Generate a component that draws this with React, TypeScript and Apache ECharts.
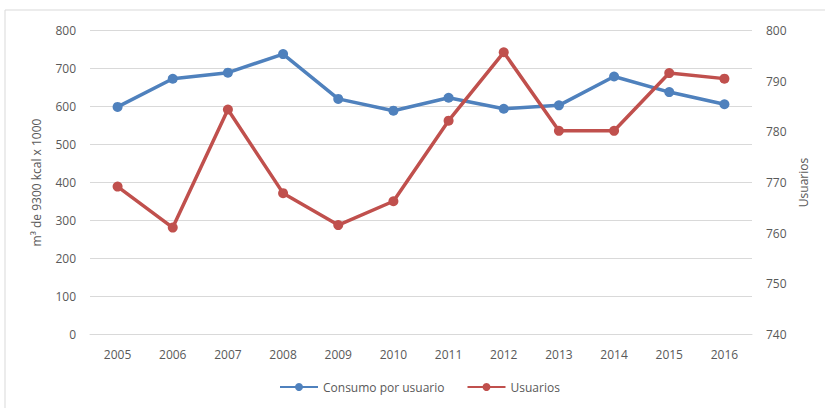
import React, { useEffect, useRef } from "react";
import * as echarts from "echarts";

const years = ["2005", "2006", "2007", "2008", "2009", "2010", "2011", "2012", "2013", "2014", "2015", "2016"];
const consumoPorUsuario = [599, 673, 689, 738, 620, 589, 623, 594, 603, 679, 638, 606];
const usuarios = [769.2, 761.1, 784.4, 767.9, 761.6, 766.3, 782.2, 795.7, 780.2, 780.2, 791.6, 790.5];

const FONT = "Open Sans";
const TEXT = "#595959";

export default function App() {
  const ref = useRef<HTMLDivElement>(null);
  useEffect(() => {
    document.body.style.margin = "0";
    const chart = echarts.init(ref.current!, null, { renderer: "svg" });
    chart.setOption({
      animation: false,
      textStyle: { fontFamily: FONT },
      color: ["#4F81BD", "#C0504D"],
      graphic: [
        {
          type: "rect",
          shape: { x: 5, y: 10, width: 830, height: 420 },
          style: { fill: "none", stroke: "#d9d9d9", lineWidth: 1 },
          silent: true,
        },
      ],
      grid: { left: 90, right: 73, top: 30.5, bottom: 73.5, containLabel: false },
      legend: {
        left: 279,
        top: 381,
        padding: 0,
        itemWidth: 38,
        itemHeight: 10,
        itemGap: 22,
        textStyle: { color: TEXT, fontSize: 12, fontFamily: FONT },
        data: ["Consumo por usuario", "Usuarios"],
      },
      xAxis: {
        type: "category",
        data: years,
        boundaryGap: true,
        axisLine: { lineStyle: { color: "#d9d9d9" } },
        axisTick: { show: false },
        axisLabel: { color: TEXT, fontSize: 12, margin: 14, fontFamily: FONT },
      },
      yAxis: [
        {
          type: "value",
          min: 0,
          max: 800,
          interval: 100,
          name: "m³ de 9300 kcal x 1000",
          nameLocation: "middle",
          nameGap: 48,
          nameTextStyle: { color: TEXT, fontSize: 12, fontFamily: FONT },
          axisLine: { show: false },
          axisTick: { show: false },
          axisLabel: { color: TEXT, fontSize: 12, margin: 14, fontFamily: FONT },
          splitLine: { lineStyle: { color: "#d9d9d9", width: 1 } },
        },
        {
          type: "value",
          min: 740,
          max: 800,
          interval: 10,
          name: "Usuarios",
          nameLocation: "middle",
          nameGap: 45,
          nameTextStyle: { color: TEXT, fontSize: 12, fontFamily: FONT },
          axisLine: { show: false },
          axisTick: { show: false },
          axisLabel: { color: TEXT, fontSize: 12, margin: 14, fontFamily: FONT },
          splitLine: { show: false },
        },
      ],
      series: [
        {
          name: "Consumo por usuario",
          type: "line",
          yAxisIndex: 0,
          data: consumoPorUsuario,
          symbol: "circle",
          symbolSize: 10,
          lineStyle: { width: 3.5, color: "#4F81BD" },
          itemStyle: { color: "#4F81BD" },
        },
        {
          name: "Usuarios",
          type: "line",
          yAxisIndex: 1,
          data: usuarios,
          symbol: "circle",
          symbolSize: 10,
          lineStyle: { width: 3.5, color: "#C0504D" },
          itemStyle: { color: "#C0504D" },
        },
      ],
    });
    return () => chart.dispose();
  }, []);
  return <div ref={ref} style={{ width: 825, height: 408 }} />;
}
